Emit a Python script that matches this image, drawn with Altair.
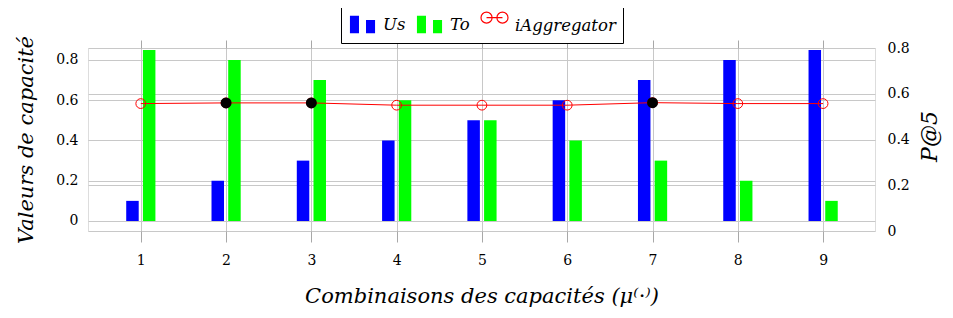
import altair as alt
import pandas as pd

# ---- data ----
x_vals = [1, 2, 3, 4, 5, 6, 7, 8, 9]
us_vals = [0.10, 0.20, 0.30, 0.40, 0.50, 0.60, 0.70, 0.80, 0.85]
to_vals = [0.85, 0.80, 0.70, 0.60, 0.50, 0.40, 0.30, 0.20, 0.10]
p5_vals = [0.557, 0.560, 0.560, 0.550, 0.550, 0.550, 0.561, 0.557, 0.557]
best_flags = [False, True, True, False, False, False, True, False, False]
series_names = ["Us", "To", "iAggregator"]
series_fill = ["#0000ff", "#00ff00", "transparent"]
series_stroke = ["transparent", "transparent", "#ff0000"]
left_ticks = [0, 0.2, 0.4, 0.6, 0.8]
right_ticks = [0, 0.2, 0.4, 0.6, 0.8]

us_df = pd.DataFrame({"x": x_vals, "value": us_vals})
to_df = pd.DataFrame({"x": x_vals, "value": to_vals})
line_df = pd.DataFrame({"x": x_vals, "p5": p5_vals, "best": best_flags})
legend_df = pd.DataFrame({"series": series_names})

NUM_FONT = "DejaVu Serif"
TITLE_FONT = "DejaVu Serif"
GRID = "#c8c8c8"
TICK = "#a8a8a8"

bar_path = "M-0.93,-0.68H-0.26V0.62H-0.93Z M0.26,-0.36H0.93V0.62H0.26Z"
agg_path = ("M-1,-0.62A0.41,0.41 0 1,0 -0.18,-0.62A0.41,0.41 0 1,0 -1,-0.62Z "
            "M-0.59,-0.62L0.59,-0.62 "
            "M0.18,-0.62A0.41,0.41 0 1,0 1,-0.62A0.41,0.41 0 1,0 0.18,-0.62Z")


def make_legend():
    return alt.Legend(
        title=None, orient="none", legendX=253, legendY=-45, direction="horizontal",
        strokeColor="black", fillColor="white", padding=7, symbolSize=729,
        labelFont="DejaVu Serif", labelFontStyle="italic", labelFontSize=16.5,
        labelColor="black", labelOffset=6, columnPadding=8, symbolStrokeWidth=1.2,
        symbolOpacity=1,
    )


x_scale = alt.Scale(domain=[0.44, 9.55], nice=False, zero=False)
x_axis = alt.Axis(orient="bottom", values=x_vals, title="Combinaisons des capacités (μ⁽⋅⁾)",
                  grid=True, gridColor=GRID, tickSize=11, tickColor=TICK, labelPadding=11,
                  labelFont=NUM_FONT, labelFontSize=14, labelColor="black",
                  titleFont=TITLE_FONT, titleFontStyle="italic", titleFontWeight="normal",
                  titleFontSize=21, titleColor="black", titlePadding=18, domain=False)
x_axis_top = alt.Axis(orient="top", values=x_vals, title=None, labels=False, grid=False,
                      tickSize=8, tickColor=TICK, domain=False)

y_left = alt.Y("value:Q",
               scale=alt.Scale(domain=[-0.0497, 0.8596], nice=False, zero=False),
               axis=alt.Axis(values=left_ticks, format=".1~f", title="Valeurs de capacité",
                             grid=True, gridColor=GRID, tickSize=0, labelPadding=10,
                             labelFont=NUM_FONT, labelFontSize=14, labelColor="black",
                             titleFont=TITLE_FONT, titleFontStyle="italic",
                             titleFontWeight="normal", titleFontSize=21, titleColor="black",
                             titlePadding=19, domain=False))

us_bar = alt.Chart(us_df).mark_bar(size=12.5, xOffset=-8.3, color="#0000ff").encode(
    x=alt.X("x:Q", scale=x_scale, axis=x_axis), y=y_left)
to_bar = alt.Chart(to_df).mark_bar(size=12.5, xOffset=8.4, color="#00ff00").encode(
    x=alt.X("x:Q", scale=x_scale, axis=x_axis), y=y_left)

y_right = alt.Y("p5:Q", scale=alt.Scale(domain=[0, 0.8], nice=False, zero=False),
                axis=alt.Axis(orient="right", values=right_ticks, format=".1~f", title="P@5",
                              titleAngle=270, titleBaseline="top", grid=True, gridColor=GRID,
                              tickSize=0, labelPadding=12, labelFont=NUM_FONT,
                              labelFontSize=14, labelColor="black", titleFont=TITLE_FONT,
                              titleFontStyle="italic", titleFontWeight="normal",
                              titleFontSize=22, titleColor="black", titlePadding=10,
                              titleY=88, domain=False))

base_line = alt.Chart(line_df).encode(x=alt.X("x:Q", scale=x_scale, axis=x_axis_top),
                                      y=y_right)
line = base_line.mark_line(color="#ff0000", strokeWidth=1)
circles = base_line.mark_point(shape="circle", filled=False, color="#ff0000", size=95,
                               strokeWidth=1, opacity=1)
dots = base_line.transform_filter("datum.best").mark_point(shape="circle", filled=True,
                                                            color="black", size=120, opacity=1)

legend_layer = alt.Chart(legend_df).mark_point(filled=True, opacity=0).encode(
    x=alt.value(0), y=alt.value(0),
    shape=alt.Shape("series:N",
                    scale=alt.Scale(domain=series_names, range=[bar_path, bar_path, agg_path]),
                    legend=make_legend()),
    fill=alt.Fill("series:N", scale=alt.Scale(domain=series_names, range=series_fill),
                  legend=make_legend()),
    stroke=alt.Stroke("series:N", scale=alt.Scale(domain=series_names, range=series_stroke),
                      legend=make_legend()),
)

chart = alt.layer(
    alt.layer(us_bar, to_bar),
    alt.layer(line, circles, dots),
    legend_layer,
).resolve_scale(y="independent").resolve_axis(x="independent").properties(
    width=787, height=183,
    autosize=alt.AutoSizeParams(type="none"),
    padding={"left": 80, "top": 40, "right": 70, "bottom": 79},
).configure_view(stroke="#555555", strokeWidth=1.5).configure(background="white")

chart.save("out.html", embed_options={"renderer": "svg", "actions": False})
